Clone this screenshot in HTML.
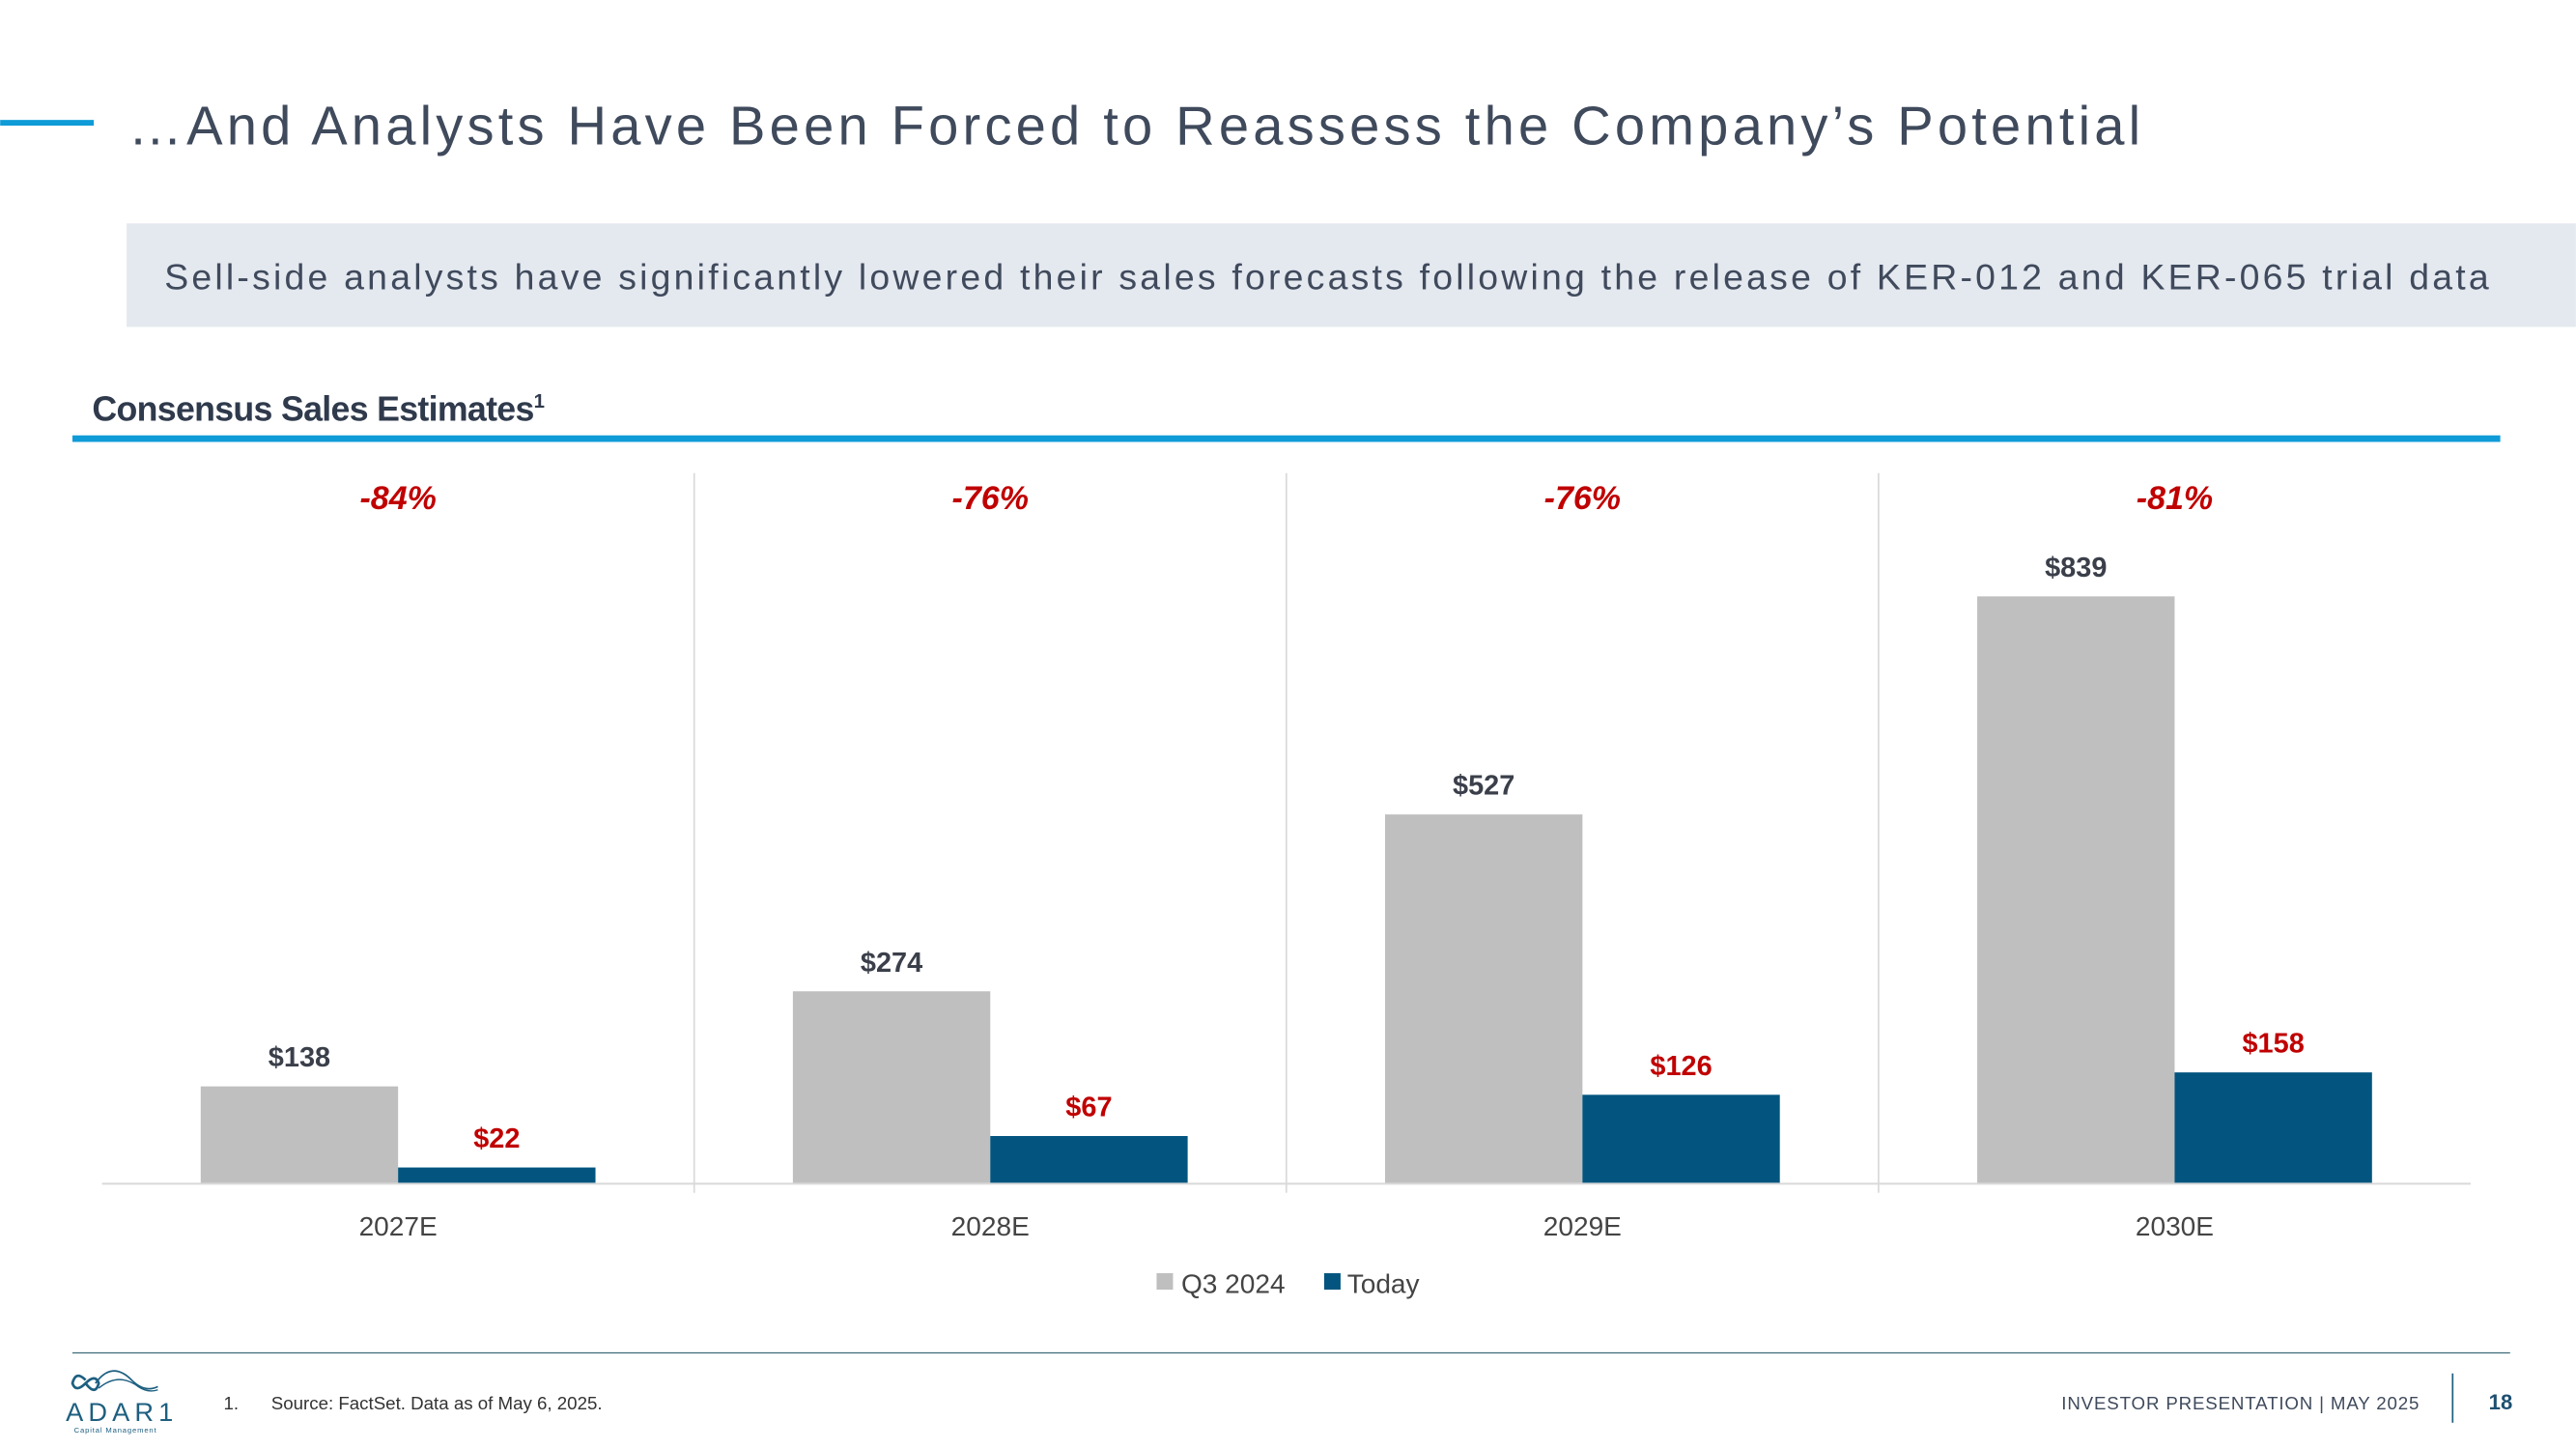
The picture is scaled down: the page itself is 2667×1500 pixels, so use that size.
<!DOCTYPE html>
<html><head><meta charset="utf-8"><style>
html,body{margin:0;padding:0;background:#fff;}
svg{display:block;font-family:"Liberation Sans",sans-serif;}
</style></head><body>
<svg id="chart" width="2667" height="1500" viewBox="0 0 1568 882">
<rect x="0" y="73" width="57" height="3.5" fill="#0f9bd7"/>
<text x="78" y="88" font-size="33" fill="#3f4a5c" textLength="1225" lengthAdjust="spacing">…And Analysts Have Been Forced to Reassess the Company’s Potential</text>
<rect x="77" y="136" width="1491" height="63" fill="#e4e8ef"/>
<text x="100" y="176" font-size="22" fill="#3f4a5c" textLength="1415" lengthAdjust="spacing">Sell-side analysts have significantly lowered their sales forecasts following the release of KER-012 and KER-065 trial data</text>
<text x="56" y="256" font-size="21" font-weight="bold" fill="#2f3a4c" letter-spacing="-0.4">Consensus Sales Estimates<tspan font-size="12" dy="-8">1</tspan></text>
<rect x="44" y="265" width="1478" height="4" fill="#0f9bd7"/>
<g id="plot"></g>
<rect x="704" y="775" width="10" height="10" fill="#bfbfbf"/>
<text x="719" y="787" font-size="16.5" fill="#444">Q3 2024</text>
<rect x="806" y="775" width="10" height="10" fill="#03557f"/>
<text x="820" y="787" font-size="16.5" fill="#444">Today</text>
<line x1="44" y1="823.5" x2="1528" y2="823.5" stroke="#3d6b7a" stroke-width="0.7"/>
<g>
<path d="M52 840 q-6 -6 -8 2 q2 6 8 0 q6 -6 8 0 q-2 8 -8 0" fill="none" stroke="#1d5f80" stroke-width="1.6"/>
<path d="M58 842 q10 -14 22 -2 q8 8 16 4" fill="none" stroke="#1d5f80" stroke-width="1"/>
<path d="M60 845 q12 -10 24 -1 q6 4 12 2" fill="none" stroke="#1d5f80" stroke-width="0.8"/>
<text x="40" y="865" font-size="16" fill="#1d5f80" letter-spacing="3">ADAR1</text>
<text x="45" y="872" font-size="4.5" fill="#1d5f80" letter-spacing="0.5">Capital Management</text>
</g>
<text x="136" y="858" font-size="11" fill="#333">1.</text>
<text x="165" y="858" font-size="11" fill="#333">Source: FactSet. Data as of May 6, 2025.</text>
<text x="1473" y="858" font-size="11" fill="#3f4a5c" text-anchor="end" letter-spacing="0.5">INVESTOR PRESENTATION  |  MAY 2025</text>
<line x1="1493" y1="836" x2="1493" y2="866" stroke="#1d5f80" stroke-width="1"/>
<text x="1515" y="858" font-size="13" font-weight="bold" fill="#1d4f70">18</text>
</svg>
<script>
const categories = ["2027E","2028E","2029E","2030E"];
const q3Values = [138,274,527,839];
const todayValues = [22,67,126,158];
const pctChanges = ["-84%","-76%","-76%","-81%"];

const NS="http://www.w3.org/2000/svg";
const g=document.getElementById('plot');
const x0=62,x1=1504,baseY=720,topY=363,maxV=839;
const gw=(x1-x0)/categories.length;
function yScale(v){return baseY-(v/maxV)*(baseY-topY);}
function groupX(i){return x0+i*gw;}
function mk(tag,attrs,text){const e=document.createElementNS(NS,tag);for(const k in attrs)e.setAttribute(k,attrs[k]);if(text!=null)e.textContent=text;g.appendChild(e);return e;}
const bw=gw/3;
categories.forEach((c,i)=>{
  const gx=groupX(i), cx=gx+gw/2;
  if(i>0){const l=mk('line',{x1:gx,y1:288,x2:gx,y2:726,stroke:'#d9d9d9','stroke-width':1});
  
  }
  const b1=mk('rect',{x:cx-bw,y:yScale(q3Values[i]),width:bw,height:baseY-yScale(q3Values[i]),fill:'#bfbfbf'});
  
  
  const b2=mk('rect',{x:cx,y:yScale(todayValues[i]),width:bw,height:baseY-yScale(todayValues[i]),fill:'#03557f'});
  
  
  const t1=mk('text',{x:cx-bw/2,y:yScale(q3Values[i])-12,'font-size':17,'font-weight':'bold',fill:'#3a3f4a','text-anchor':'middle'},'$'+q3Values[i]);
  
  
  const t2=mk('text',{x:cx+bw/2,y:yScale(todayValues[i])-12,'font-size':17,'font-weight':'bold',fill:'#c00000','text-anchor':'middle'},'$'+todayValues[i]);
  
  
  const p=mk('text',{x:cx,y:310,'font-size':20,'font-weight':'bold','font-style':'italic',fill:'#c00000','text-anchor':'middle'},pctChanges[i]);
  
  
  const cl=mk('text',{x:cx,y:752,'font-size':16.5,fill:'#444','text-anchor':'middle'},c);
  
  
});
const ax=mk('line',{x1:x0,y1:baseY+0.5,x2:x1,y2:baseY+0.5,stroke:'#d9d9d9','stroke-width':1.2});


</script>
</body></html>
